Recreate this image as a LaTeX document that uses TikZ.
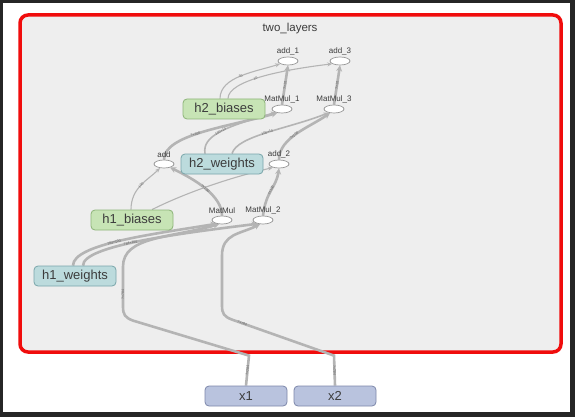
\documentclass[tikz,border=0pt]{standalone}
\usepackage{fontspec}
\setmainfont{Liberation Sans}
\usetikzlibrary{shapes.geometric,arrows.meta}

\definecolor{textgray}{RGB}{60,60,60}
\definecolor{bggray}{RGB}{238,238,238}
\definecolor{framered}{RGB}{240,12,12}
\definecolor{edgegray}{RGB}{180,180,180}
\definecolor{opline}{RGB}{150,150,150}
\definecolor{biasfill}{RGB}{199,228,181}
\definecolor{biasline}{RGB}{140,180,120}
\definecolor{weightfill}{RGB}{188,219,221}
\definecolor{weightline}{RGB}{120,165,170}
\definecolor{inputfill}{RGB}{185,195,222}
\definecolor{inputline}{RGB}{125,135,170}

\pgfdeclarelayer{bg}
\pgfdeclarelayer{edges}
\pgfsetlayers{bg,edges,main}

\tikzset{
  varbox/.style={draw, rounded corners=4pt, line width=0.8pt, minimum width=82pt,
    minimum height=20pt, inner sep=0pt, text=textgray, font=\fontsize{13}{15}\selectfont},
  biasbox/.style={varbox, fill=biasfill, draw=biasline},
  weightbox/.style={varbox, fill=weightfill, draw=weightline},
  inputbox/.style={varbox, fill=inputfill, draw=inputline},
  opnode/.style={ellipse, draw=opline, fill=white, line width=0.7pt, minimum width=20pt,
    minimum height=8pt, inner sep=0pt},
  oplabel/.style={font=\fontsize{8}{9}\selectfont, text=textgray, inner sep=0pt, label distance=1.5pt},
  thinedge/.style={draw=edgegray, line width=1.1pt, -{Stealth[length=5pt,width=4pt]}},
  thickedge/.style={draw=edgegray, line width=2.6pt, -{Stealth[length=6pt,width=6pt]}},
  edgelabel/.style={font=\fontsize{3.5}{4}\selectfont, text=textgray!80, sloped, inner sep=0.5pt}
}

\begin{document}
\begin{tikzpicture}[x=1pt,y=-1pt]
\useasboundingbox (0,0) rectangle (575,417);

% frame and group box
\begin{pgfonlayer}{bg}
\fill[black!85] (0,0) rectangle (575,417);
\fill[white] (3,3) rectangle (570,412);
\draw[framered, line width=3.5pt, rounded corners=8pt, fill=bggray] (20,15) rectangle (561,352);
\end{pgfonlayer}
\node[font=\fontsize{11.5}{13}\selectfont, text=textgray] (title) at (290,29) {two\_layers};

% operations
\node[opnode, label={[oplabel]above:add\_1}] (add1) at (288,61) {};
\node[opnode, label={[oplabel]above:add\_3}] (add3) at (340,61) {};
\node[opnode, label={[oplabel]above:MatMul\_1}] (mm1) at (282,109) {};
\node[opnode, label={[oplabel]above:MatMul\_3}] (mm3) at (334,109) {};
\node[opnode, label={[oplabel]above:add}] (add0) at (164,164) {};
\node[opnode, label={[oplabel]above:add\_2}] (add2) at (279,164) {};
\node[opnode, label={[oplabel]above:MatMul}] (mm0) at (222,220) {};
\node[opnode, label={[oplabel]above:MatMul\_2}] (mm2) at (263,220) {};

% variables and inputs
\node[biasbox] (h2b) at (224,109) {h2\_biases};
\node[weightbox] (h2w) at (222,164) {h2\_weights};
\node[biasbox] (h1b) at (132,220) {h1\_biases};
\node[weightbox] (h1w) at (75,276) {h1\_weights};
\node[inputbox] (x1) at (246,396) {x1};
\node[inputbox] (x2) at (335,396) {x2};

% edges
\begin{pgfonlayer}{edges}
\draw[thinedge] ([xshift=-4pt]h2b.north) .. controls +(0,-22) and +(-25,8) .. (add1.200)
  node[edgelabel, pos=0.5] {10};
\draw[thinedge] ([xshift=4pt]h2b.north) .. controls +(0,-18) and +(-50,6) .. (add3.200)
  node[edgelabel, pos=0.45] {10};
\draw[thickedge] (mm1.north) -- (add1.south) node[edgelabel, pos=0.5] {?×10};
\draw[thickedge] (mm3.north) -- (add3.south) node[edgelabel, pos=0.5] {?×10};
\draw[thickedge] (add0.north) .. controls +(0,-25) and +(-50,14) .. (mm1.220)
  node[edgelabel, pos=0.45] {?×100};
\draw[thinedge, line width=1.6pt] ([xshift=-17pt]h2w.north) .. controls +(-3,-18) and +(-50,14) .. (mm1.210)
  node[edgelabel, pos=0.5] {100×10};
\draw[thinedge, line width=1.6pt] ([xshift=10pt]h2w.north) .. controls +(5,-18) and +(-40,16) .. (mm3.215)
  node[edgelabel, pos=0.5] {100×10};
\draw[thickedge] (add2.north) .. controls +(0,-22) and +(-20,14) .. (mm3.225)
  node[edgelabel, pos=0.45] {?×100};
\draw[thinedge] ([xshift=-1pt]h1b.north) .. controls +(0,-22) and +(-12,12) .. (add0.225)
  node[edgelabel, pos=0.5] {100};
\draw[thinedge] ([xshift=20pt]h1b.north) .. controls +(30,-15) and +(-50,12) .. (add2.210);
\draw[thickedge] (mm0.north) .. controls +(0,-20) and +(25,12) .. (add0.330)
  node[edgelabel, pos=0.5] {?×100};
\draw[thickedge] (mm2.north) .. controls +(3,-25) and +(-3,20) .. (add2.south)
  node[edgelabel, pos=0.5] {?×100};
\draw[thickedge] ([xshift=-2pt]h1w.north) .. controls +(0,-22) and +(-60,10) .. (mm0.215)
  node[edgelabel, pos=0.45] {784×100};
\draw[thickedge] ([xshift=8pt]h1w.north) .. controls +(0,-20) and +(-80,10) .. (mm2.215)
  node[edgelabel, pos=0.45] {784×100};
\draw[thickedge] (x1.north) -- ++(3,-30) node[edgelabel, pos=0.5] {?×784}
  -- ++(-116,-35) .. controls +(-8,-3) and +(0,8) .. ++(-10,-14)
  -- ++(0,-40) node[edgelabel, pos=0.3] {?×784}
  .. controls +(0,-30) and +(-50,14) .. (mm0.235);
\draw[thickedge] (x2.north) -- ++(-1,-30) node[edgelabel, pos=0.5] {?×784}
  -- ++(-102,-36) node[edgelabel, pos=0.9] {?×784}
  .. controls +(-8,-3) and +(0,8) .. ++(-10,-14)
  -- ++(0,-50) .. controls +(0,-22) and +(-20,10) .. (mm2.235);
\end{pgfonlayer}
\end{tikzpicture}
\end{document}
